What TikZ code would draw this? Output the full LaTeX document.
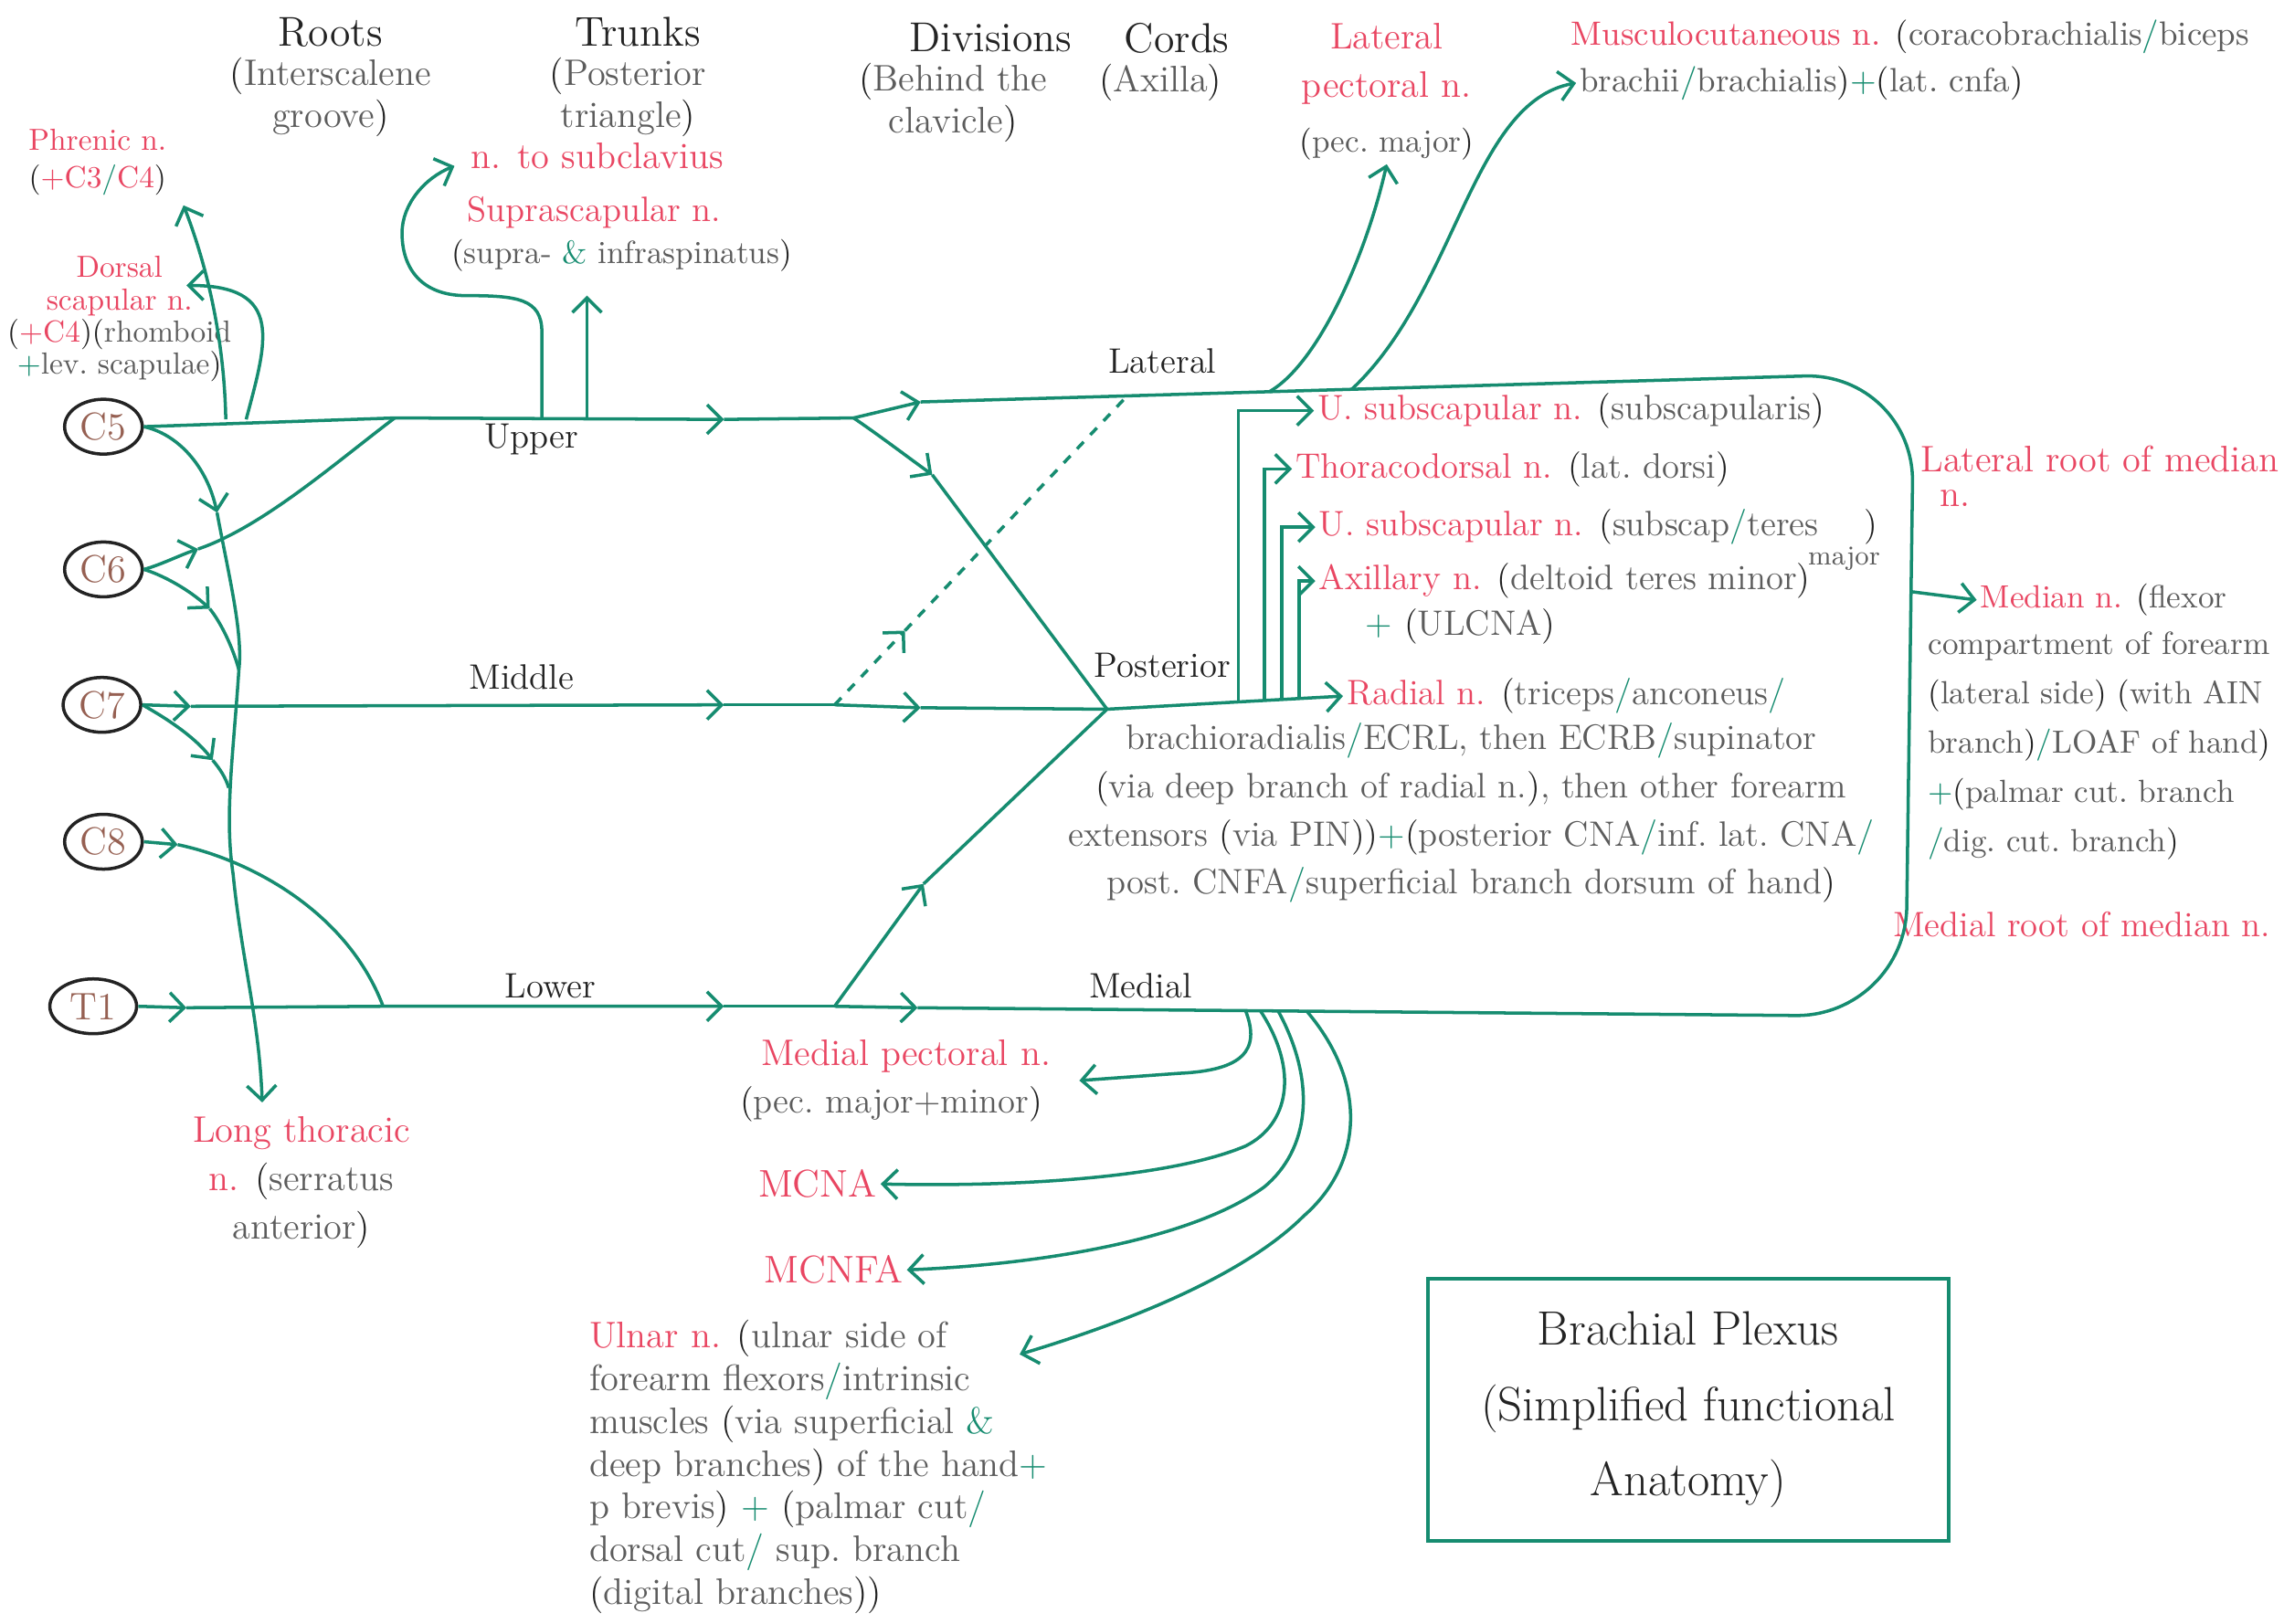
\documentclass[tikz,border=0pt]{standalone}
\usepackage{tikz}
\usetikzlibrary{arrows.meta,positioning,calc,shapes.geometric}
\definecolor{InkGreen}{RGB}{22,140,112}
\definecolor{InkRed}{RGB}{233,70,98}
\definecolor{InkGrey}{RGB}{92,92,92}
\definecolor{InkBlack}{RGB}{35,35,35}
\definecolor{InkBrown}{RGB}{150,96,82}
\newcommand{\gsl}{\textcolor{InkGreen}{/}}
\newcommand{\gpl}{\textcolor{InkGreen}{+}}
\newcommand{\gamp}{\textcolor{InkGreen}{\&}}
\newcommand{\opar}{\textcolor{InkBlack}{(}}
\newcommand{\cpar}{\textcolor{InkBlack}{)}}
\newcommand{\nv}[1]{\textcolor{InkRed}{#1}}
\tikzset{
  nerve/.style={draw=InkGreen, line width=1pt},
  nervearr/.style={nerve, -{Straight Barb[length=1.6mm, width=3.2mm]}},
  rootnode/.style={ellipse, draw=InkBlack, line width=1pt, minimum width=0.85cm,
    minimum height=0.6cm, inner sep=1pt, text=InkBrown, font=\fontsize{12}{12}\selectfont},
  headtxt/.style={text=InkBlack, font=\fontsize{13}{15}\selectfont, inner sep=1pt},
  subhead/.style={text=InkGrey, font=\fontsize{11.5}{13}\selectfont, align=center, inner sep=1pt},
  levellbl/.style={text=InkBlack, font=\fontsize{11}{13}\selectfont, inner sep=1pt},
  nervename/.style={text=InkRed, font=\fontsize{#1}{#1}\selectfont, inner sep=1pt},
  nervename/.default=11.5,
  muscletxt/.style={text=InkGrey, font=\fontsize{#1}{15}\selectfont, inner sep=1pt},
  muscletxt/.default=11,
  titlebox/.style={draw=InkGreen, line width=1.3pt, minimum width=5.7cm, minimum height=2.87cm,
    align=center, text=InkBlack, font=\fontsize{15}{23.5}\selectfont},
}

\begin{document}
\begin{tikzpicture}[x=0.01594cm, y=-0.01594cm]
  \fill[white] (0,0) rectangle (1568,1115);
  \useasboundingbox (0,0) rectangle (1568,1115);

  % roots
  \node[rootnode] (c5) at (71,293) {C5};
  \node[rootnode] (c6) at (71,391) {C6};
  \node[rootnode] (c7) at (70,484) {C7};
  \node[rootnode] (c8) at (71,578) {C8};
  \node[rootnode, minimum width=0.95cm] (t1) at (64,691) {T1};

  % headings
  \node[headtxt] (roots) at (227,22) {Roots};
  \node[subhead, below=1pt of roots] (rootsub) {\opar Interscalene\\groove\cpar};
  \node[headtxt] (trunks) at (438,22) {Trunks};
  \node[subhead, below=1pt of trunks, xshift=-0.11cm] (trunksub) {\opar Posterior\\triangle\cpar};
  \node[headtxt] (divs) at (680,26) {Divisions};
  \node[subhead, below=1pt of divs, xshift=-0.41cm] (divsub) {\opar Behind the\\clavicle\cpar};
  \node[headtxt] (cords) at (808,26) {Cords};
  \node[subhead, below=1pt of cords, xshift=-0.18cm] (cordsub) {\opar Axilla\cpar};

  % trunk and cord names
  \node[levellbl] (upper) at (365,302) {Upper};
  \node[levellbl] (middle) at (358,465) {Middle};
  \node[levellbl] (lower) at (378,677) {Lower};
  \node[levellbl] (lateral) at (798,248) {Lateral};
  \node[levellbl] (posterior) at (798,457) {Posterior};
  \node[levellbl] (medial) at (783,677) {Medial};

  % branches off roots and trunks
  \node[nervename=9.5] (phrenic) at (67,96) {Phrenic n.};
  \node[nervename=9.5, below=2pt of phrenic] (phrenicsub) {\opar+C3\gsl C4\cpar};
  \node[muscletxt, font=\fontsize{9.5}{10}\selectfont, align=center] (dorsal) at (82,219)
    {\nv{Dorsal}\\\nv{scapular n.}\\\opar\nv{+C4}\cpar\opar rhomboid\\\gpl lev.\ scapulae\cpar};
  \node[nervename] (subcl) at (410,107) {n. to subclavius};
  \node[nervename=11] (suprasc) at (408,146) {Suprascapular n.};
  \node[muscletxt=10, below=1pt of suprasc, xshift=0.3cm] (suprascsub) {\opar supra- \gamp\ infraspinatus\cpar};
  \node[nervename, align=center, font=\fontsize{11.5}{15}\selectfont] (longth) at (207,812)
    {Long thoracic\\n. \opar\textcolor{InkGrey}{serratus}\\\textcolor{InkGrey}{anterior}\cpar};

  % lateral cord branches
  \node[nervename, align=center, font=\fontsize{11.5}{15}\selectfont] (latpec) at (952,44) {Lateral\\pectoral n.};
  \node[muscletxt=10, below=5pt of latpec] (pecmaj) {\opar pec.\ major\cpar};
  \node[muscletxt=10.5, anchor=west] (musc) at (1076,25)
    {\nv{Musculocutaneous n.} \opar coracobrachialis\gsl biceps};
  \node[muscletxt=10.5, anchor=west] (musc2) at (1082,57) {brachii\gsl brachialis\cpar\gpl\opar lat.\ cnfa\cpar};

  % posterior cord branches
  \node[muscletxt, anchor=west] (usub) at (902,282) {\nv{U. subscapular n.} \opar subscapularis\cpar};
  \node[muscletxt, anchor=west] (thor) at (887,322) {\nv{Thoracodorsal n.} \opar lat.\ dorsi\cpar};
  \node[muscletxt, anchor=west] (lsub) at (903,362) {\nv{U. subscapular n.} \opar subscap\gsl teres\hspace{1.3em}\cpar};
  \node[muscletxt=8.5] (lsubmaj) at (1266,384) {major};
  \node[muscletxt, anchor=west] (axil) at (903,399) {\nv{Axillary n.} \opar deltoid teres minor\cpar};
  \node[muscletxt, anchor=west] (ulcna) at (935,430) {\gpl\ \opar ULCNA\cpar};
  \node[muscletxt, anchor=west] (radial) at (922,478) {\nv{Radial n.} \opar triceps\gsl anconeus\gsl};
  \node[muscletxt, align=center, anchor=north] (radialsub) at (1010,494)
    {brachioradialis\gsl ECRL, then ECRB\gsl supinator\\
     \opar via deep branch of radial n.\cpar, then other forearm\\
     extensors \opar via PIN\cpar\cpar\gpl\opar posterior CNA\gsl inf.\ lat.\ CNA\gsl\\
     post.\ CNFA\gsl superficial branch dorsum of hand\cpar};

  % median nerve
  \node[nervename, anchor=west] (latroot) at (1316,315) {Lateral root of median};
  \node[nervename] (latrootn) at (1342,342) {n.};
  \node[muscletxt=10, anchor=west] (median) at (1357,412) {\nv{Median n.} \opar flexor};
  \node[muscletxt, align=left, anchor=north west, font=\fontsize{10}{15.4}\selectfont] (mediansub) at (1321,431)
    {compartment of forearm\\\opar lateral side\cpar\ \opar with AIN\\branch\cpar\gsl LOAF of hand\cpar\\
     \gpl\opar palmar cut.\ branch\\\gsl dig.\ cut.\ branch\cpar};
  \node[nervename=11, anchor=west] (medroot) at (1297,635) {Medial root of median n.};

  % medial cord branches
  \node[nervename] (medpec) at (622,725) {Medial pectoral n.};
  \node[muscletxt, below=2pt of medpec, xshift=-0.16cm] (medpecsub) {\opar pec.\ major+minor\cpar};
  \node[nervename=12, anchor=west] (mcna) at (518,813) {MCNA};
  \node[nervename=12, anchor=west] (mcnfa) at (522,872) {MCNFA};
  \node[muscletxt, align=left, anchor=north west, font=\fontsize{11.5}{13.3}\selectfont] (ulnar) at (402,904)
    {\nv{Ulnar n.} \opar ulnar side of\\forearm flexors\gsl intrinsic\\muscles \opar via superficial \gamp\\
     deep branches\cpar\ of the hand\gpl\\p brevis\cpar\ \gpl\ \opar palmar cut\gsl\\
     dorsal cut\gsl\ sup.\ branch\\\opar digital branches\cpar\cpar};

  \node[titlebox] (title) at (1159,968) {Brachial Plexus\\(Simplified functional\\Anatomy)};

  % junctions
  \coordinate (jC6) at (271,287);
  \coordinate (upA) at (497,288);
  \coordinate (U) at (586,287);
  \coordinate (a6u) at (136,377);
  \coordinate (a6l) at (144,418);
  \coordinate (a7m) at (131,485);
  \coordinate (a7l) at (146,522);
  \coordinate (midA) at (497,484);
  \coordinate (M) at (573,484);
  \coordinate (midB) at (632,486);
  \coordinate (P) at (760,487);
  \coordinate (a8) at (122,580);
  \coordinate (a1) at (128,692);
  \coordinate (jC8) at (263,691);
  \coordinate (lowA) at (497,691);
  \coordinate (L) at (573,691);
  \coordinate (lowB) at (630,692);
  \coordinate (ud) at (640,326);
  \coordinate (ld) at (634,607);
  \coordinate (lt1) at (149,352);
  \coordinate (lt2) at (164,460);
  \coordinate (j7l) at (157,541);
  \coordinate (lt3) at (160,600);
  \coordinate (ltT) at (180,757);
  \coordinate (phr0) at (155,288);
  \coordinate (ds0) at (169,288);
  \coordinate (phrT) at (126,141);
  \coordinate (dsT) at (128,196);
  \coordinate (sub0) at (372,287);
  \coordinate (subT) at (312,114);
  \coordinate (ss0) at (403,287);
  \coordinate (ssT) at (403,203);
  \coordinate (latA) at (632,276);
  \coordinate (latR) at (1314,256);
  \coordinate (medR) at (1308,698);
  \coordinate (latD) at ($(latA)!0.208!(latR)$);
  \coordinate (latP) at ($(latA)!0.351!(latR)$);
  \coordinate (latM) at ($(latA)!0.434!(latR)$);
  \coordinate (mdA) at ($(M)!0.24!(latD)$);
  \coordinate (MJ) at ($(latR)!0.34!(medR)$);
  \coordinate (medP) at ($(lowB)!0.332!(medR)$);
  \coordinate (medC) at ($(lowB)!0.347!(medR)$);
  \coordinate (medF) at ($(lowB)!0.365!(medR)$);
  \coordinate (medU) at ($(lowB)!0.394!(medR)$);
  \coordinate (pb1) at ($(P)!0.556!(radial.west)$);
  \coordinate (pb2) at ($(P)!0.667!(radial.west)$);
  \coordinate (pb3) at ($(P)!0.741!(radial.west)$);
  \coordinate (pb4) at ($(P)!0.815!(radial.west)$);
  \coordinate (mpT) at (741,742);
  \coordinate (ulT) at (700,930);

  % roots into trunks
  \draw[nervearr] (c5.east) -- (jC6) -- (upA);
  \draw[nerve] (upA) -- (U);
  \draw[nervearr] (c6.east) .. controls (110,388) and (124,381) .. (a6u);
  \draw[nerve] (a6u) .. controls (180,362) and (230,318) .. (jC6);
  \draw[nervearr] (c7.east) -- (a7m);
  \draw[nervearr] (a7m) -- (midA);
  \draw[nerve] (midA) -- (M);
  \draw[nervearr] (M) -- (midB);
  \draw[nerve] (midB) -- (P);
  \draw[nervearr] (c8.east) -- (a8);
  \draw[nerve] (a8) .. controls (170,590) and (238,625) .. (jC8);
  \draw[nervearr] (t1.east) -- (a1);
  \draw[nervearr] (a1) -- (jC8) -- (lowA);
  \draw[nerve] (lowA) -- (L);
  \draw[nervearr] (L) -- (lowB);

  % long thoracic
  \draw[nervearr] (c5.east) .. controls (122,298) and (142,320) .. (lt1);
  \draw[nervearr] (lt1) .. controls (157,395) and (167,435) .. (lt2)
    .. controls (160,520) and (154,560) .. (lt3) .. controls (166,660) and (178,700) .. (ltT);
  \draw[nervearr] (c6.east) .. controls (112,395) and (130,405) .. (a6l);
  \draw[nerve] (a6l) .. controls (152,428) and (160,445) .. (lt2);
  \draw[nervearr] (c7.east) .. controls (112,492) and (133,505) .. (a7l);
  \draw[nerve] (a7l) .. controls (151,528) and (155,534) .. (j7l);

  % phrenic, dorsal scapular, subclavius, suprascapular
  \draw[nervearr] (phr0) .. controls (154,235) and (143,185) .. (phrT);
  \draw[nervearr] (ds0) .. controls (183,235) and (196,196) .. (dsT);
  \draw[nervearr] (sub0) -- (372,228) .. controls (372,205) and (355,203) .. (320,203)
    .. controls (290,203) and (276,185) .. (276,160) .. controls (276,140) and (292,122) .. (subT);
  \draw[nervearr] (ss0) -- (ssT);

  % divisions
  \draw[nervearr] (U) .. controls (605,300) and (622,313) .. (ud);
  \draw[nerve] (ud) -- (P);
  \draw[nervearr] (L) -- (ld);
  \draw[nerve] (ld) -- (P);
  \draw[nervearr, dashed] (M) -- (mdA);
  \draw[nerve, dashed] (mdA) -- (latD);

  % cords
  \draw[nervearr] (U) -- (latA);
  \draw[nerve, rounded corners=1.2cm] (latA) -- (latR) -- (medR) -- (lowB);
  \draw[nervearr] (P) -- (radial.west);
  \draw[nervearr] (pb1) |- (usub.west);
  \draw[nervearr] (pb2) |- (thor.west);
  \draw[nervearr] (pb3) |- (lsub.west);
  \draw[nervearr] (pb4) |- (axil.west);
  \draw[nervearr] (latP) .. controls (905,250) and (938,175) .. (pecmaj.south);
  \draw[nervearr] (latM) .. controls (1000,200) and (1010,70) .. (musc2.west);
  \draw[nervearr] (MJ) -- (median.west);

  % medial cord branches
  \draw[nervearr] (medP) .. controls (866,722) and (852,735) .. (810,737) -- (mpT);
  \draw[nervearr] (medC) .. controls (892,735) and (885,772) .. (855,787)
    .. controls (800,810) and (690,815) .. (mcna.east);
  \draw[nervearr] (medF) .. controls (905,745) and (898,790) .. (868,815)
    .. controls (820,850) and (720,868) .. (mcnfa.east);
  \draw[nervearr] (medU) .. controls (940,745) and (935,800) .. (895,835)
    .. controls (850,880) and (760,912) .. (ulT);
\end{tikzpicture}
\end{document}
